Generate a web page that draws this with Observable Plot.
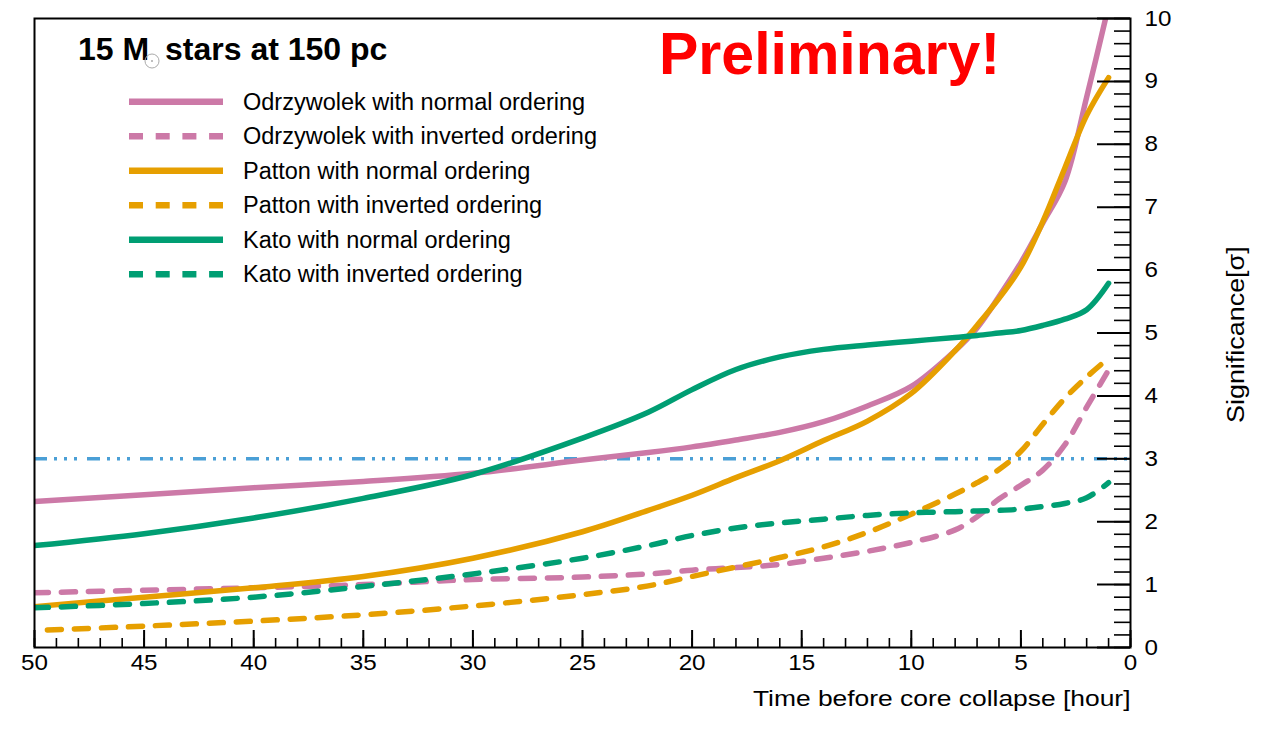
<!DOCTYPE html>
<html>
<head>
<meta charset="utf-8">
<script src="https://cdn.jsdelivr.net/npm/d3@7"></script>
<script src="https://cdn.jsdelivr.net/npm/@observablehq/plot@0.6"></script>
<style>
  html, body { margin: 0; padding: 0; background: #fff; }
  #chart svg { display: block; }
</style>
</head>
<body>
<div id="chart"></div>
<script>
// Hours before core collapse at which each significance curve is sampled
const hours = [50, 45, 40, 35, 30, 25, 22, 20, 18, 16, 14, 12, 10, 8, 7, 6, 5, 4, 3, 2, 1];

// Expected significance [sigma] for a 15 solar-mass star at 150 pc
const odrzywolekNormal   = [2.32, 2.43, 2.54, 2.64, 2.77, 2.98, 3.10, 3.19, 3.30, 3.42, 3.59, 3.84, 4.15, 4.72, 5.08, 5.58, 6.12, 6.75, 7.40, 8.75, 10.2];
const odrzywolekInverted = [0.87, 0.91, 0.95, 1.00, 1.08, 1.12, 1.17, 1.23, 1.27, 1.32, 1.42, 1.53, 1.67, 1.87, 2.08, 2.36, 2.58, 2.82, 3.22, 3.82, 4.41];
const pattonNormal       = [0.65, 0.80, 0.95, 1.13, 1.42, 1.84, 2.18, 2.42, 2.70, 2.97, 3.29, 3.60, 4.04, 4.72, 5.12, 5.55, 6.05, 6.77, 7.62, 8.46, 9.06];
const pattonInverted     = [0.27, 0.34, 0.42, 0.52, 0.66, 0.84, 0.98, 1.13, 1.28, 1.43, 1.60, 1.83, 2.12, 2.44, 2.62, 2.83, 3.12, 3.55, 3.96, 4.30, 4.60];
const katoNormal         = [1.62, 1.81, 2.06, 2.37, 2.75, 3.33, 3.74, 4.10, 4.42, 4.62, 4.74, 4.81, 4.87, 4.93, 4.96, 5.00, 5.04, 5.12, 5.22, 5.37, 5.79];
const katoInverted       = [0.63, 0.70, 0.80, 0.97, 1.17, 1.42, 1.62, 1.78, 1.90, 1.98, 2.04, 2.10, 2.14, 2.16, 2.17, 2.18, 2.20, 2.24, 2.29, 2.38, 2.62];

const seriesLabels = [
  "Odrzywolek with normal ordering",
  "Odrzywolek with inverted ordering",
  "Patton with normal ordering",
  "Patton with inverted ordering",
  "Kato with normal ordering",
  "Kato with inverted ordering"
];
const seriesValues = [odrzywolekNormal, odrzywolekInverted, pattonNormal, pattonInverted, katoNormal, katoInverted];

// 3 sigma reference level
const threshold = [3];

// Axis ticks
const xMajorTicks = [50, 45, 40, 35, 30, 25, 20, 15, 10, 5, 0];
const xMinorTicks = d3.range(0, 51, 1);
const yMajorTicks = [0, 1, 2, 3, 4, 5, 6, 7, 8, 9, 10];
const yMinorTicks = d3.range(0, 51).map(i => i / 5);

const xTitle = "Time before core collapse [hour]";
const yTitle = "Significance[σ]";

// ---- styling ----
const pink = "#cc79a7", orange = "#e69f00", green = "#009e73", blue = "#4a9fd6";
const seriesStyles = [
  {stroke: pink,   dash: null},
  {stroke: pink,   dash: "14,13"},
  {stroke: orange, dash: null},
  {stroke: orange, dash: "14,13", offset: 14},
  {stroke: green,  dash: null},
  {stroke: green,  dash: "14,13"}
];
const W = 1268, H = 730;
const margin = {left: 34, right: 138, top: 18, bottom: 83};
const frameW = W - margin.left - margin.right;
const frameH = H - margin.top - margin.bottom;
const font = "'Liberation Sans', Arial, Helvetica, sans-serif";

const lineMarks = seriesValues.map((vals, k) => Plot.line(vals, {
  x: (d, i) => hours[i],
  y: d => d,
  stroke: seriesStyles[k].stroke,
  strokeWidth: 5.5,
  strokeDasharray: seriesStyles[k].dash,
  strokeDashoffset: seriesStyles[k].offset || 0,
  strokeLinejoin: "round",
  curve: "catmull-rom",
  clip: true
}));

const chart = Plot.plot({
  width: W,
  height: H,
  marginLeft: margin.left,
  marginRight: margin.right,
  marginTop: margin.top,
  marginBottom: margin.bottom,
  style: {fontFamily: font, background: "#fff", overflow: "visible"},
  x: {domain: [50, 0], axis: null},
  y: {domain: [0, 10], axis: null},
  marks: [
    Plot.ruleY(threshold, {stroke: blue, strokeWidth: 3.5, strokeDasharray: "13,7,3,7,3,7,3,10"}),
    ...lineMarks,
    Plot.frame({stroke: "black", strokeWidth: 2}),
    // inward-pointing ticks along the bottom and right axes
    Plot.tickX(xMinorTicks, {x: d => d, insetTop: frameH - 9, stroke: "black", strokeWidth: 1.6}),
    Plot.tickX(xMajorTicks, {x: d => d, insetTop: frameH - 17, stroke: "black", strokeWidth: 2}),
    Plot.tickY(yMinorTicks, {y: d => d, insetLeft: frameW - 16, stroke: "black", strokeWidth: 1.6}),
    Plot.tickY(yMajorTicks, {y: d => d, insetLeft: frameW - 33, stroke: "black", strokeWidth: 2}),
    // text marks, in order: x tick labels, y tick labels, x title, y title
    Plot.text(xMajorTicks, {x: d => d, text: d => String(d), frameAnchor: "bottom", dy: 22,
      fontSize: 22, fill: "black"}),
    Plot.text(yMajorTicks, {y: d => d, text: d => String(d), frameAnchor: "right", dx: 14,
      textAnchor: "start", fontSize: 22, fill: "black"}),
    Plot.text([xTitle], {text: d => d, frameAnchor: "bottom-right", dy: 58, textAnchor: "end",
      fontSize: 22, fill: "black"}),
    Plot.text([yTitle], {text: d => d, frameAnchor: "right", dx: 106, dy: 90, rotate: -90,
      textAnchor: "start", fontSize: 23, fill: "black"})
  ]
});

document.getElementById("chart").appendChild(chart);

// Axis lettering is set a little wider than the base face: stretch each
// label along its baseline once it has been laid out.
function widen(group, sx) {
  if (!group) return;
  group.querySelectorAll("text").forEach(t => {
    const len = t.getComputedTextLength();
    if (len > 0) {
      t.setAttribute("textLength", (len * sx).toFixed(2));
      t.setAttribute("lengthAdjust", "spacingAndGlyphs");
    }
  });
}
const textGroups = chart.querySelectorAll('g[aria-label="text"]');
widen(textGroups[0], 1.1);
widen(textGroups[1], 1.1);
widen(textGroups[2], 1.2);
widen(textGroups[3], 1.17);

const svg = d3.select(chart);

// Title: 15 M_sun stars at 150 pc
const title = svg.append("g").attr("font-family", font).attr("font-weight", "bold")
  .attr("font-size", 32).attr("fill", "black").attr("text-anchor", "start");
title.append("text").attr("x", 78).attr("y", 60).text("15 M");
title.append("text").attr("x", 165).attr("y", 60).text("stars at 150 pc");
svg.append("circle").attr("cx", 152).attr("cy", 61).attr("r", 7).attr("fill", "none").attr("stroke", "#aaa").attr("stroke-width", 1);
svg.append("circle").attr("cx", 152).attr("cy", 61).attr("r", 1).attr("fill", "#aaa");

// Preliminary stamp
svg.append("text").attr("x", 659).attr("y", 74).attr("text-anchor", "start")
  .attr("font-family", font).attr("font-weight", "bold").attr("font-size", 59)
  .attr("fill", "#ff0000").text("Preliminary!");

// Legend
const legend = svg.append("g").attr("font-family", font).attr("font-size", 23.5)
  .attr("fill", "black").attr("text-anchor", "start");
seriesLabels.forEach((label, k) => {
  const yRow = 101.7 + k * 34.5;
  legend.append("line").attr("x1", 129).attr("x2", 223).attr("y1", yRow).attr("y2", yRow)
    .attr("stroke", seriesStyles[k].stroke).attr("stroke-width", 6.5)
    .attr("stroke-dasharray", seriesStyles[k].dash ? "14,12.7" : null);
  legend.append("text").attr("x", 243).attr("y", yRow + 8).text(label);
});
</script>
</body>
</html>
